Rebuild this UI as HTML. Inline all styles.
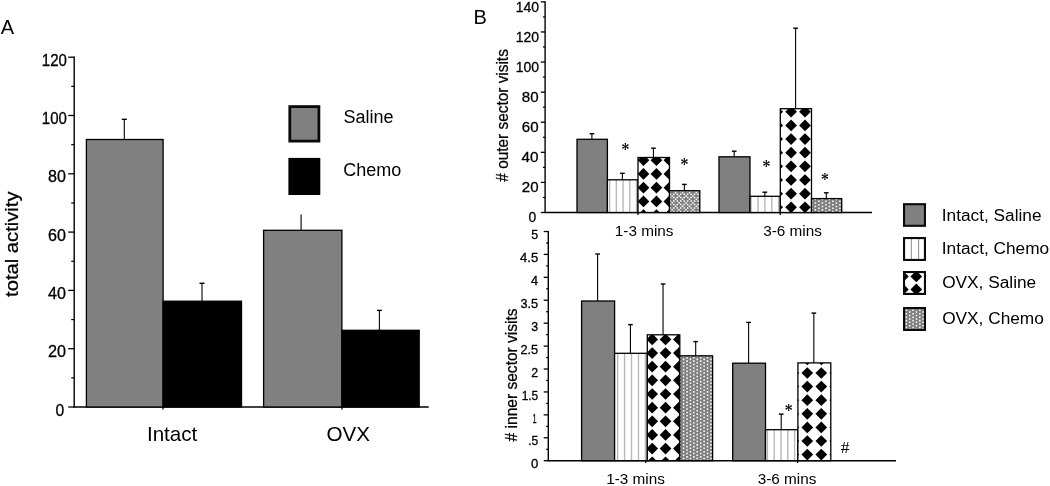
<!DOCTYPE html>
<html><head><meta charset="utf-8"><title>Figure</title>
<style>
html,body{margin:0;padding:0;background:#fff;}
body{width:1050px;height:486px;overflow:hidden;font-family:"Liberation Sans",sans-serif;}
svg{display:block;will-change:transform;}
</style></head><body>
<svg width="1050" height="486" viewBox="0 0 1050 486">
<rect x="0" y="0" width="1050" height="486" fill="#fff"/>
<defs><clipPath id="c1"><rect x="607.40" y="179.80" width="30.60" height="32.70"/></clipPath><clipPath id="c2"><rect x="638.00" y="157.50" width="31.50" height="55.00"/></clipPath><clipPath id="c3"><rect x="669.50" y="190.70" width="30.30" height="21.80"/></clipPath><clipPath id="c4"><rect x="750.00" y="196.30" width="30.30" height="16.20"/></clipPath><clipPath id="c5"><rect x="780.30" y="108.70" width="31.20" height="103.80"/></clipPath><clipPath id="c6"><rect x="811.50" y="198.60" width="30.20" height="13.90"/></clipPath><clipPath id="c7"><rect x="614.60" y="353.30" width="32.70" height="107.40"/></clipPath><clipPath id="c8"><rect x="647.30" y="334.80" width="32.50" height="125.90"/></clipPath><clipPath id="c9"><rect x="679.80" y="355.80" width="32.80" height="104.90"/></clipPath><clipPath id="c10"><rect x="765.50" y="429.70" width="32.40" height="31.00"/></clipPath><clipPath id="c11"><rect x="797.90" y="362.90" width="32.90" height="97.80"/></clipPath><clipPath id="c12"><rect x="904.05" y="238.05" width="20.90" height="21.90"/></clipPath><clipPath id="c13"><rect x="904.05" y="272.05" width="20.90" height="21.90"/></clipPath><clipPath id="c14"><rect x="904.05" y="308.05" width="20.90" height="21.90"/></clipPath></defs>
<text x="0.80" y="33.80" font-size="20" text-anchor="start" font-family="Liberation Sans, sans-serif" fill="#000" >A</text>
<line x1="74.20" y1="56.60" x2="74.20" y2="407.60" stroke="#000" stroke-width="1.4"/>
<line x1="73.50" y1="407.00" x2="428.70" y2="407.00" stroke="#000" stroke-width="1.4"/>
<line x1="68.20" y1="407.00" x2="74.20" y2="407.00" stroke="#000" stroke-width="1.3"/>
<text transform="translate(55.50,415.65) scale(0.9600,1)" font-size="16.3" font-family="Liberation Sans, sans-serif" fill="#000" stroke="#000" stroke-width="0.3">0</text>
<line x1="71.20" y1="377.85" x2="74.20" y2="377.85" stroke="#000" stroke-width="1.2"/>
<line x1="68.20" y1="348.70" x2="74.20" y2="348.70" stroke="#000" stroke-width="1.3"/>
<text transform="translate(48.00,357.35) scale(0.9931,1)" font-size="16.3" font-family="Liberation Sans, sans-serif" fill="#000" stroke="#000" stroke-width="0.3">20</text>
<line x1="71.20" y1="319.55" x2="74.20" y2="319.55" stroke="#000" stroke-width="1.2"/>
<line x1="68.20" y1="290.40" x2="74.20" y2="290.40" stroke="#000" stroke-width="1.3"/>
<text transform="translate(48.10,299.05) scale(0.9876,1)" font-size="16.3" font-family="Liberation Sans, sans-serif" fill="#000" stroke="#000" stroke-width="0.3">40</text>
<line x1="71.20" y1="261.25" x2="74.20" y2="261.25" stroke="#000" stroke-width="1.2"/>
<line x1="68.20" y1="232.10" x2="74.20" y2="232.10" stroke="#000" stroke-width="1.3"/>
<text transform="translate(48.10,240.75) scale(0.9876,1)" font-size="16.3" font-family="Liberation Sans, sans-serif" fill="#000" stroke="#000" stroke-width="0.3">60</text>
<line x1="71.20" y1="202.95" x2="74.20" y2="202.95" stroke="#000" stroke-width="1.2"/>
<line x1="68.20" y1="173.80" x2="74.20" y2="173.80" stroke="#000" stroke-width="1.3"/>
<text transform="translate(48.10,182.45) scale(0.9876,1)" font-size="16.3" font-family="Liberation Sans, sans-serif" fill="#000" stroke="#000" stroke-width="0.3">80</text>
<line x1="71.20" y1="144.65" x2="74.20" y2="144.65" stroke="#000" stroke-width="1.2"/>
<line x1="68.20" y1="115.50" x2="74.20" y2="115.50" stroke="#000" stroke-width="1.3"/>
<text transform="translate(41.80,124.15) scale(0.9232,1)" font-size="16.3" font-family="Liberation Sans, sans-serif" fill="#000" stroke="#000" stroke-width="0.3">100</text>
<line x1="71.20" y1="86.35" x2="74.20" y2="86.35" stroke="#000" stroke-width="1.2"/>
<line x1="68.20" y1="57.20" x2="74.20" y2="57.20" stroke="#000" stroke-width="1.3"/>
<text transform="translate(41.80,65.85) scale(0.9232,1)" font-size="16.3" font-family="Liberation Sans, sans-serif" fill="#000" stroke="#000" stroke-width="0.3">120</text>
<line x1="163.00" y1="407.00" x2="163.00" y2="409.60" stroke="#000" stroke-width="1.3"/>
<line x1="341.90" y1="407.00" x2="341.90" y2="409.60" stroke="#000" stroke-width="1.3"/>
<rect x="86.40" y="139.50" width="76.70" height="267.50" fill="#808080" stroke="#000" stroke-width="1.3"/>
<rect x="163.10" y="301.20" width="78.40" height="105.80" fill="#000" stroke="#000" stroke-width="1.3"/>
<rect x="263.60" y="230.30" width="78.30" height="176.70" fill="#808080" stroke="#000" stroke-width="1.3"/>
<rect x="341.90" y="330.30" width="77.30" height="76.70" fill="#000" stroke="#000" stroke-width="1.3"/>
<line x1="124.30" y1="119.30" x2="124.30" y2="139.50" stroke="#000" stroke-width="1.1"/>
<line x1="121.80" y1="119.30" x2="126.80" y2="119.30" stroke="#000" stroke-width="1.4000000000000001"/>
<line x1="202.00" y1="283.30" x2="202.00" y2="301.20" stroke="#000" stroke-width="1.1"/>
<line x1="199.50" y1="283.30" x2="204.50" y2="283.30" stroke="#000" stroke-width="1.4000000000000001"/>
<line x1="301.10" y1="214.50" x2="301.10" y2="230.30" stroke="#000" stroke-width="1.1"/>
<line x1="379.40" y1="310.40" x2="379.40" y2="330.30" stroke="#000" stroke-width="1.1"/>
<line x1="376.90" y1="310.40" x2="381.90" y2="310.40" stroke="#000" stroke-width="1.4000000000000001"/>
<text x="172.10" y="441.00" font-size="20.6" text-anchor="middle" font-family="Liberation Sans, sans-serif" fill="#000" >Intact</text>
<text x="348.20" y="441.00" font-size="20.6" text-anchor="middle" font-family="Liberation Sans, sans-serif" fill="#000" >OVX</text>
<text transform="translate(18.3,244.2) rotate(-90) scale(1,0.88)" font-size="20.2" text-anchor="middle" font-family="Liberation Sans, sans-serif" fill="#000" stroke="#000" stroke-width="0.3">total activity</text>
<rect x="289.80" y="106.60" width="29.10" height="34.50" fill="#808080" stroke="#0a0a0a" stroke-width="2.8"/>
<rect x="288.40" y="157.90" width="31.90" height="37.10" fill="#000" />
<text x="343.60" y="123.30" font-size="18" text-anchor="start" font-family="Liberation Sans, sans-serif" fill="#000" >Saline</text>
<text x="343.30" y="175.80" font-size="18" text-anchor="start" font-family="Liberation Sans, sans-serif" fill="#000" >Chemo</text>
<text x="473.50" y="23.50" font-size="20" text-anchor="start" font-family="Liberation Sans, sans-serif" fill="#000" >B</text>
<line x1="545.10" y1="1.27" x2="545.10" y2="213.10" stroke="#000" stroke-width="1.4"/>
<line x1="544.40" y1="212.50" x2="872.00" y2="212.50" stroke="#000" stroke-width="1.4"/>
<line x1="540.80" y1="212.50" x2="545.10" y2="212.50" stroke="#000" stroke-width="1.3"/>
<text transform="translate(528.60,222.20) scale(0.9606,1)" font-size="14.4" font-family="Liberation Sans, sans-serif" fill="#000" stroke="#000" stroke-width="0.3">0</text>
<line x1="542.90" y1="197.46" x2="545.10" y2="197.46" stroke="#000" stroke-width="1.2"/>
<line x1="540.80" y1="182.41" x2="545.10" y2="182.41" stroke="#000" stroke-width="1.3"/>
<text transform="translate(521.80,192.11) scale(1.0480,1)" font-size="14.4" font-family="Liberation Sans, sans-serif" fill="#000" stroke="#000" stroke-width="0.3">20</text>
<line x1="542.90" y1="167.37" x2="545.10" y2="167.37" stroke="#000" stroke-width="1.2"/>
<line x1="540.80" y1="152.32" x2="545.10" y2="152.32" stroke="#000" stroke-width="1.3"/>
<text transform="translate(521.60,162.02) scale(1.0604,1)" font-size="14.4" font-family="Liberation Sans, sans-serif" fill="#000" stroke="#000" stroke-width="0.3">40</text>
<line x1="542.90" y1="137.28" x2="545.10" y2="137.28" stroke="#000" stroke-width="1.2"/>
<line x1="540.80" y1="122.23" x2="545.10" y2="122.23" stroke="#000" stroke-width="1.3"/>
<text transform="translate(521.80,131.93) scale(1.0480,1)" font-size="14.4" font-family="Liberation Sans, sans-serif" fill="#000" stroke="#000" stroke-width="0.3">60</text>
<line x1="542.90" y1="107.19" x2="545.10" y2="107.19" stroke="#000" stroke-width="1.2"/>
<line x1="540.80" y1="92.14" x2="545.10" y2="92.14" stroke="#000" stroke-width="1.3"/>
<text transform="translate(521.80,101.84) scale(1.0480,1)" font-size="14.4" font-family="Liberation Sans, sans-serif" fill="#000" stroke="#000" stroke-width="0.3">80</text>
<line x1="542.90" y1="77.09" x2="545.10" y2="77.09" stroke="#000" stroke-width="1.2"/>
<line x1="540.80" y1="62.05" x2="545.10" y2="62.05" stroke="#000" stroke-width="1.3"/>
<text transform="translate(515.80,71.75) scale(0.9696,1)" font-size="14.4" font-family="Liberation Sans, sans-serif" fill="#000" stroke="#000" stroke-width="0.3">100</text>
<line x1="542.90" y1="47.00" x2="545.10" y2="47.00" stroke="#000" stroke-width="1.2"/>
<line x1="540.80" y1="31.96" x2="545.10" y2="31.96" stroke="#000" stroke-width="1.3"/>
<text transform="translate(515.80,41.66) scale(0.9696,1)" font-size="14.4" font-family="Liberation Sans, sans-serif" fill="#000" stroke="#000" stroke-width="0.3">120</text>
<line x1="542.90" y1="16.92" x2="545.10" y2="16.92" stroke="#000" stroke-width="1.2"/>
<line x1="540.80" y1="1.87" x2="545.10" y2="1.87" stroke="#000" stroke-width="1.3"/>
<text transform="translate(515.80,11.57) scale(0.9696,1)" font-size="14.4" font-family="Liberation Sans, sans-serif" fill="#000" stroke="#000" stroke-width="0.3">140</text>
<line x1="638.00" y1="212.50" x2="638.00" y2="214.90" stroke="#000" stroke-width="1.3"/>
<line x1="780.30" y1="212.50" x2="780.30" y2="214.90" stroke="#000" stroke-width="1.3"/>
<rect x="577.00" y="139.30" width="30.40" height="73.20" fill="#808080" />
<rect x="577.00" y="139.30" width="30.40" height="73.20" fill="none" stroke="#000" stroke-width="1.3"/>
<line x1="591.90" y1="133.70" x2="591.90" y2="139.30" stroke="#000" stroke-width="1.1"/>
<line x1="589.55" y1="133.70" x2="594.25" y2="133.70" stroke="#000" stroke-width="1.4000000000000001"/>
<g clip-path="url(#c1)"><rect x="607.40" y="179.80" width="30.60" height="32.70" fill="#fff"/><rect x="602.18" y="179.80" width="1.4" height="32.70" fill="#b8b8b8"/><rect x="608.90" y="179.80" width="1.4" height="32.70" fill="#b8b8b8"/><rect x="615.62" y="179.80" width="1.4" height="32.70" fill="#b8b8b8"/><rect x="622.34" y="179.80" width="1.4" height="32.70" fill="#b8b8b8"/><rect x="629.06" y="179.80" width="1.4" height="32.70" fill="#b8b8b8"/><rect x="635.78" y="179.80" width="1.4" height="32.70" fill="#b8b8b8"/><rect x="642.50" y="179.80" width="1.4" height="32.70" fill="#b8b8b8"/></g>
<rect x="607.40" y="179.80" width="30.60" height="32.70" fill="none" stroke="#000" stroke-width="1.3"/>
<line x1="622.40" y1="173.30" x2="622.40" y2="179.80" stroke="#000" stroke-width="1.1"/>
<line x1="620.05" y1="173.30" x2="624.75" y2="173.30" stroke="#000" stroke-width="1.4000000000000001"/>
<g clip-path="url(#c2)"><rect x="638.00" y="157.50" width="31.50" height="55.00" fill="#fff"/><polygon points="630.55,140.62 636.40,146.47 630.55,152.32 624.70,146.47"/><polygon points="630.55,154.35 636.40,160.20 630.55,166.05 624.70,160.20"/><polygon points="630.55,168.08 636.40,173.93 630.55,179.78 624.70,173.93"/><polygon points="630.55,181.81 636.40,187.66 630.55,193.51 624.70,187.66"/><polygon points="630.55,195.54 636.40,201.39 630.55,207.24 624.70,201.39"/><polygon points="630.55,209.27 636.40,215.12 630.55,220.97 624.70,215.12"/><polygon points="643.50,140.62 649.35,146.47 643.50,152.32 637.65,146.47"/><polygon points="643.50,154.35 649.35,160.20 643.50,166.05 637.65,160.20"/><polygon points="643.50,168.08 649.35,173.93 643.50,179.78 637.65,173.93"/><polygon points="643.50,181.81 649.35,187.66 643.50,193.51 637.65,187.66"/><polygon points="643.50,195.54 649.35,201.39 643.50,207.24 637.65,201.39"/><polygon points="643.50,209.27 649.35,215.12 643.50,220.97 637.65,215.12"/><polygon points="656.45,140.62 662.30,146.47 656.45,152.32 650.60,146.47"/><polygon points="656.45,154.35 662.30,160.20 656.45,166.05 650.60,160.20"/><polygon points="656.45,168.08 662.30,173.93 656.45,179.78 650.60,173.93"/><polygon points="656.45,181.81 662.30,187.66 656.45,193.51 650.60,187.66"/><polygon points="656.45,195.54 662.30,201.39 656.45,207.24 650.60,201.39"/><polygon points="656.45,209.27 662.30,215.12 656.45,220.97 650.60,215.12"/><polygon points="669.40,140.62 675.25,146.47 669.40,152.32 663.55,146.47"/><polygon points="669.40,154.35 675.25,160.20 669.40,166.05 663.55,160.20"/><polygon points="669.40,168.08 675.25,173.93 669.40,179.78 663.55,173.93"/><polygon points="669.40,181.81 675.25,187.66 669.40,193.51 663.55,187.66"/><polygon points="669.40,195.54 675.25,201.39 669.40,207.24 663.55,201.39"/><polygon points="669.40,209.27 675.25,215.12 669.40,220.97 663.55,215.12"/><polygon points="682.35,140.62 688.20,146.47 682.35,152.32 676.50,146.47"/><polygon points="682.35,154.35 688.20,160.20 682.35,166.05 676.50,160.20"/><polygon points="682.35,168.08 688.20,173.93 682.35,179.78 676.50,173.93"/><polygon points="682.35,181.81 688.20,187.66 682.35,193.51 676.50,187.66"/><polygon points="682.35,195.54 688.20,201.39 682.35,207.24 676.50,201.39"/><polygon points="682.35,209.27 688.20,215.12 682.35,220.97 676.50,215.12"/></g>
<rect x="638.00" y="157.50" width="31.50" height="55.00" fill="none" stroke="#000" stroke-width="1.3"/>
<line x1="653.45" y1="148.20" x2="653.45" y2="157.50" stroke="#000" stroke-width="1.1"/>
<line x1="651.10" y1="148.20" x2="655.80" y2="148.20" stroke="#000" stroke-width="1.4000000000000001"/>
<g clip-path="url(#c3)"><rect x="669.50" y="190.70" width="30.30" height="21.80" fill="#808080"/><path d="M666.20 189.95h1.5v1.5h-1.5zM666.20 193.40h1.5v1.5h-1.5zM666.20 196.85h1.5v1.5h-1.5zM666.20 200.30h1.5v1.5h-1.5zM666.20 203.75h1.5v1.5h-1.5zM666.20 207.20h1.5v1.5h-1.5zM666.20 210.65h1.5v1.5h-1.5zM666.20 214.10h1.5v1.5h-1.5zM669.65 189.95h1.5v1.5h-1.5zM669.65 193.40h1.5v1.5h-1.5zM669.65 196.85h1.5v1.5h-1.5zM669.65 200.30h1.5v1.5h-1.5zM669.65 203.75h1.5v1.5h-1.5zM669.65 207.20h1.5v1.5h-1.5zM669.65 210.65h1.5v1.5h-1.5zM669.65 214.10h1.5v1.5h-1.5zM673.10 189.95h1.5v1.5h-1.5zM673.10 193.40h1.5v1.5h-1.5zM673.10 196.85h1.5v1.5h-1.5zM673.10 200.30h1.5v1.5h-1.5zM673.10 203.75h1.5v1.5h-1.5zM673.10 207.20h1.5v1.5h-1.5zM673.10 210.65h1.5v1.5h-1.5zM673.10 214.10h1.5v1.5h-1.5zM676.55 189.95h1.5v1.5h-1.5zM676.55 193.40h1.5v1.5h-1.5zM676.55 196.85h1.5v1.5h-1.5zM676.55 200.30h1.5v1.5h-1.5zM676.55 203.75h1.5v1.5h-1.5zM676.55 207.20h1.5v1.5h-1.5zM676.55 210.65h1.5v1.5h-1.5zM676.55 214.10h1.5v1.5h-1.5zM680.00 189.95h1.5v1.5h-1.5zM680.00 193.40h1.5v1.5h-1.5zM680.00 196.85h1.5v1.5h-1.5zM680.00 200.30h1.5v1.5h-1.5zM680.00 203.75h1.5v1.5h-1.5zM680.00 207.20h1.5v1.5h-1.5zM680.00 210.65h1.5v1.5h-1.5zM680.00 214.10h1.5v1.5h-1.5zM683.45 189.95h1.5v1.5h-1.5zM683.45 193.40h1.5v1.5h-1.5zM683.45 196.85h1.5v1.5h-1.5zM683.45 200.30h1.5v1.5h-1.5zM683.45 203.75h1.5v1.5h-1.5zM683.45 207.20h1.5v1.5h-1.5zM683.45 210.65h1.5v1.5h-1.5zM683.45 214.10h1.5v1.5h-1.5zM686.90 189.95h1.5v1.5h-1.5zM686.90 193.40h1.5v1.5h-1.5zM686.90 196.85h1.5v1.5h-1.5zM686.90 200.30h1.5v1.5h-1.5zM686.90 203.75h1.5v1.5h-1.5zM686.90 207.20h1.5v1.5h-1.5zM686.90 210.65h1.5v1.5h-1.5zM686.90 214.10h1.5v1.5h-1.5zM690.35 189.95h1.5v1.5h-1.5zM690.35 193.40h1.5v1.5h-1.5zM690.35 196.85h1.5v1.5h-1.5zM690.35 200.30h1.5v1.5h-1.5zM690.35 203.75h1.5v1.5h-1.5zM690.35 207.20h1.5v1.5h-1.5zM690.35 210.65h1.5v1.5h-1.5zM690.35 214.10h1.5v1.5h-1.5zM693.80 189.95h1.5v1.5h-1.5zM693.80 193.40h1.5v1.5h-1.5zM693.80 196.85h1.5v1.5h-1.5zM693.80 200.30h1.5v1.5h-1.5zM693.80 203.75h1.5v1.5h-1.5zM693.80 207.20h1.5v1.5h-1.5zM693.80 210.65h1.5v1.5h-1.5zM693.80 214.10h1.5v1.5h-1.5zM697.25 189.95h1.5v1.5h-1.5zM697.25 193.40h1.5v1.5h-1.5zM697.25 196.85h1.5v1.5h-1.5zM697.25 200.30h1.5v1.5h-1.5zM697.25 203.75h1.5v1.5h-1.5zM697.25 207.20h1.5v1.5h-1.5zM697.25 210.65h1.5v1.5h-1.5zM697.25 214.10h1.5v1.5h-1.5zM700.70 189.95h1.5v1.5h-1.5zM700.70 193.40h1.5v1.5h-1.5zM700.70 196.85h1.5v1.5h-1.5zM700.70 200.30h1.5v1.5h-1.5zM700.70 203.75h1.5v1.5h-1.5zM700.70 207.20h1.5v1.5h-1.5zM700.70 210.65h1.5v1.5h-1.5zM700.70 214.10h1.5v1.5h-1.5zM668.00 191.70h1.5v1.5h-1.5zM668.00 198.60h1.5v1.5h-1.5zM668.00 205.50h1.5v1.5h-1.5zM668.00 212.40h1.5v1.5h-1.5zM671.45 188.25h1.5v1.5h-1.5zM671.45 195.15h1.5v1.5h-1.5zM671.45 202.05h1.5v1.5h-1.5zM671.45 208.95h1.5v1.5h-1.5zM674.90 191.70h1.5v1.5h-1.5zM674.90 198.60h1.5v1.5h-1.5zM674.90 205.50h1.5v1.5h-1.5zM674.90 212.40h1.5v1.5h-1.5zM678.35 188.25h1.5v1.5h-1.5zM678.35 195.15h1.5v1.5h-1.5zM678.35 202.05h1.5v1.5h-1.5zM678.35 208.95h1.5v1.5h-1.5zM681.80 191.70h1.5v1.5h-1.5zM681.80 198.60h1.5v1.5h-1.5zM681.80 205.50h1.5v1.5h-1.5zM681.80 212.40h1.5v1.5h-1.5zM685.25 188.25h1.5v1.5h-1.5zM685.25 195.15h1.5v1.5h-1.5zM685.25 202.05h1.5v1.5h-1.5zM685.25 208.95h1.5v1.5h-1.5zM688.70 191.70h1.5v1.5h-1.5zM688.70 198.60h1.5v1.5h-1.5zM688.70 205.50h1.5v1.5h-1.5zM688.70 212.40h1.5v1.5h-1.5zM692.15 188.25h1.5v1.5h-1.5zM692.15 195.15h1.5v1.5h-1.5zM692.15 202.05h1.5v1.5h-1.5zM692.15 208.95h1.5v1.5h-1.5zM695.60 191.70h1.5v1.5h-1.5zM695.60 198.60h1.5v1.5h-1.5zM695.60 205.50h1.5v1.5h-1.5zM695.60 212.40h1.5v1.5h-1.5zM699.05 188.25h1.5v1.5h-1.5zM699.05 195.15h1.5v1.5h-1.5zM699.05 202.05h1.5v1.5h-1.5zM699.05 208.95h1.5v1.5h-1.5zM702.50 191.70h1.5v1.5h-1.5zM702.50 198.60h1.5v1.5h-1.5zM702.50 205.50h1.5v1.5h-1.5zM702.50 212.40h1.5v1.5h-1.5z" fill="#fff"/></g>
<rect x="669.50" y="190.70" width="30.30" height="21.80" fill="none" stroke="#000" stroke-width="1.3"/>
<line x1="684.35" y1="184.40" x2="684.35" y2="190.70" stroke="#000" stroke-width="1.1"/>
<line x1="682.00" y1="184.40" x2="686.70" y2="184.40" stroke="#000" stroke-width="1.4000000000000001"/>
<rect x="719.00" y="156.80" width="31.00" height="55.70" fill="#808080" />
<rect x="719.00" y="156.80" width="31.00" height="55.70" fill="none" stroke="#000" stroke-width="1.3"/>
<line x1="734.20" y1="151.20" x2="734.20" y2="156.80" stroke="#000" stroke-width="1.1"/>
<line x1="731.85" y1="151.20" x2="736.55" y2="151.20" stroke="#000" stroke-width="1.4000000000000001"/>
<g clip-path="url(#c4)"><rect x="750.00" y="196.30" width="30.30" height="16.20" fill="#fff"/><rect x="743.50" y="196.30" width="1.4" height="16.20" fill="#b8b8b8"/><rect x="750.40" y="196.30" width="1.4" height="16.20" fill="#b8b8b8"/><rect x="757.30" y="196.30" width="1.4" height="16.20" fill="#b8b8b8"/><rect x="764.20" y="196.30" width="1.4" height="16.20" fill="#b8b8b8"/><rect x="771.10" y="196.30" width="1.4" height="16.20" fill="#b8b8b8"/><rect x="778.00" y="196.30" width="1.4" height="16.20" fill="#b8b8b8"/><rect x="784.90" y="196.30" width="1.4" height="16.20" fill="#b8b8b8"/></g>
<rect x="750.00" y="196.30" width="30.30" height="16.20" fill="none" stroke="#000" stroke-width="1.3"/>
<line x1="764.85" y1="192.20" x2="764.85" y2="196.30" stroke="#000" stroke-width="1.1"/>
<line x1="762.50" y1="192.20" x2="767.20" y2="192.20" stroke="#000" stroke-width="1.4000000000000001"/>
<g clip-path="url(#c5)"><rect x="780.30" y="108.70" width="31.20" height="103.80" fill="#fff"/><polygon points="777.20,92.25 783.05,98.10 777.20,103.95 771.35,98.10"/><polygon points="777.20,105.90 783.05,111.75 777.20,117.60 771.35,111.75"/><polygon points="777.20,119.55 783.05,125.40 777.20,131.25 771.35,125.40"/><polygon points="777.20,133.20 783.05,139.05 777.20,144.90 771.35,139.05"/><polygon points="777.20,146.85 783.05,152.70 777.20,158.55 771.35,152.70"/><polygon points="777.20,160.50 783.05,166.35 777.20,172.20 771.35,166.35"/><polygon points="777.20,174.15 783.05,180.00 777.20,185.85 771.35,180.00"/><polygon points="777.20,187.80 783.05,193.65 777.20,199.50 771.35,193.65"/><polygon points="777.20,201.45 783.05,207.30 777.20,213.15 771.35,207.30"/><polygon points="777.20,215.10 783.05,220.95 777.20,226.80 771.35,220.95"/><polygon points="791.10,92.25 796.95,98.10 791.10,103.95 785.25,98.10"/><polygon points="791.10,105.90 796.95,111.75 791.10,117.60 785.25,111.75"/><polygon points="791.10,119.55 796.95,125.40 791.10,131.25 785.25,125.40"/><polygon points="791.10,133.20 796.95,139.05 791.10,144.90 785.25,139.05"/><polygon points="791.10,146.85 796.95,152.70 791.10,158.55 785.25,152.70"/><polygon points="791.10,160.50 796.95,166.35 791.10,172.20 785.25,166.35"/><polygon points="791.10,174.15 796.95,180.00 791.10,185.85 785.25,180.00"/><polygon points="791.10,187.80 796.95,193.65 791.10,199.50 785.25,193.65"/><polygon points="791.10,201.45 796.95,207.30 791.10,213.15 785.25,207.30"/><polygon points="791.10,215.10 796.95,220.95 791.10,226.80 785.25,220.95"/><polygon points="805.00,92.25 810.85,98.10 805.00,103.95 799.15,98.10"/><polygon points="805.00,105.90 810.85,111.75 805.00,117.60 799.15,111.75"/><polygon points="805.00,119.55 810.85,125.40 805.00,131.25 799.15,125.40"/><polygon points="805.00,133.20 810.85,139.05 805.00,144.90 799.15,139.05"/><polygon points="805.00,146.85 810.85,152.70 805.00,158.55 799.15,152.70"/><polygon points="805.00,160.50 810.85,166.35 805.00,172.20 799.15,166.35"/><polygon points="805.00,174.15 810.85,180.00 805.00,185.85 799.15,180.00"/><polygon points="805.00,187.80 810.85,193.65 805.00,199.50 799.15,193.65"/><polygon points="805.00,201.45 810.85,207.30 805.00,213.15 799.15,207.30"/><polygon points="805.00,215.10 810.85,220.95 805.00,226.80 799.15,220.95"/><polygon points="818.90,92.25 824.75,98.10 818.90,103.95 813.05,98.10"/><polygon points="818.90,105.90 824.75,111.75 818.90,117.60 813.05,111.75"/><polygon points="818.90,119.55 824.75,125.40 818.90,131.25 813.05,125.40"/><polygon points="818.90,133.20 824.75,139.05 818.90,144.90 813.05,139.05"/><polygon points="818.90,146.85 824.75,152.70 818.90,158.55 813.05,152.70"/><polygon points="818.90,160.50 824.75,166.35 818.90,172.20 813.05,166.35"/><polygon points="818.90,174.15 824.75,180.00 818.90,185.85 813.05,180.00"/><polygon points="818.90,187.80 824.75,193.65 818.90,199.50 813.05,193.65"/><polygon points="818.90,201.45 824.75,207.30 818.90,213.15 813.05,207.30"/><polygon points="818.90,215.10 824.75,220.95 818.90,226.80 813.05,220.95"/></g>
<rect x="780.30" y="108.70" width="31.20" height="103.80" fill="none" stroke="#000" stroke-width="1.3"/>
<line x1="795.60" y1="28.20" x2="795.60" y2="108.70" stroke="#000" stroke-width="1.1"/>
<line x1="793.25" y1="28.20" x2="797.95" y2="28.20" stroke="#000" stroke-width="1.4000000000000001"/>
<g clip-path="url(#c6)"><rect x="811.50" y="198.60" width="30.20" height="13.90" fill="#808080"/><path d="M807.62 195.41h1.55v1.55h-1.55zM807.62 198.82h1.55v1.55h-1.55zM807.62 202.24h1.55v1.55h-1.55zM807.62 205.66h1.55v1.55h-1.55zM807.62 209.08h1.55v1.55h-1.55zM807.62 212.50h1.55v1.55h-1.55zM811.12 197.12h1.55v1.55h-1.55zM811.12 200.53h1.55v1.55h-1.55zM811.12 203.95h1.55v1.55h-1.55zM811.12 207.38h1.55v1.55h-1.55zM811.12 210.79h1.55v1.55h-1.55zM811.12 214.22h1.55v1.55h-1.55zM814.62 195.41h1.55v1.55h-1.55zM814.62 198.82h1.55v1.55h-1.55zM814.62 202.24h1.55v1.55h-1.55zM814.62 205.66h1.55v1.55h-1.55zM814.62 209.08h1.55v1.55h-1.55zM814.62 212.50h1.55v1.55h-1.55zM818.12 197.12h1.55v1.55h-1.55zM818.12 200.53h1.55v1.55h-1.55zM818.12 203.95h1.55v1.55h-1.55zM818.12 207.38h1.55v1.55h-1.55zM818.12 210.79h1.55v1.55h-1.55zM818.12 214.22h1.55v1.55h-1.55zM821.62 195.41h1.55v1.55h-1.55zM821.62 198.82h1.55v1.55h-1.55zM821.62 202.24h1.55v1.55h-1.55zM821.62 205.66h1.55v1.55h-1.55zM821.62 209.08h1.55v1.55h-1.55zM821.62 212.50h1.55v1.55h-1.55zM825.12 197.12h1.55v1.55h-1.55zM825.12 200.53h1.55v1.55h-1.55zM825.12 203.95h1.55v1.55h-1.55zM825.12 207.38h1.55v1.55h-1.55zM825.12 210.79h1.55v1.55h-1.55zM825.12 214.22h1.55v1.55h-1.55zM828.62 195.41h1.55v1.55h-1.55zM828.62 198.82h1.55v1.55h-1.55zM828.62 202.24h1.55v1.55h-1.55zM828.62 205.66h1.55v1.55h-1.55zM828.62 209.08h1.55v1.55h-1.55zM828.62 212.50h1.55v1.55h-1.55zM832.12 197.12h1.55v1.55h-1.55zM832.12 200.53h1.55v1.55h-1.55zM832.12 203.95h1.55v1.55h-1.55zM832.12 207.38h1.55v1.55h-1.55zM832.12 210.79h1.55v1.55h-1.55zM832.12 214.22h1.55v1.55h-1.55zM835.62 195.41h1.55v1.55h-1.55zM835.62 198.82h1.55v1.55h-1.55zM835.62 202.24h1.55v1.55h-1.55zM835.62 205.66h1.55v1.55h-1.55zM835.62 209.08h1.55v1.55h-1.55zM835.62 212.50h1.55v1.55h-1.55zM839.12 197.12h1.55v1.55h-1.55zM839.12 200.53h1.55v1.55h-1.55zM839.12 203.95h1.55v1.55h-1.55zM839.12 207.38h1.55v1.55h-1.55zM839.12 210.79h1.55v1.55h-1.55zM839.12 214.22h1.55v1.55h-1.55zM842.62 195.41h1.55v1.55h-1.55zM842.62 198.82h1.55v1.55h-1.55zM842.62 202.24h1.55v1.55h-1.55zM842.62 205.66h1.55v1.55h-1.55zM842.62 209.08h1.55v1.55h-1.55zM842.62 212.50h1.55v1.55h-1.55z" fill="#fff"/></g>
<rect x="811.50" y="198.60" width="30.20" height="13.90" fill="none" stroke="#000" stroke-width="1.3"/>
<line x1="826.30" y1="192.80" x2="826.30" y2="198.60" stroke="#000" stroke-width="1.1"/>
<line x1="823.95" y1="192.80" x2="828.65" y2="192.80" stroke="#000" stroke-width="1.4000000000000001"/>
<text x="644.20" y="235.80" font-size="15.3" text-anchor="middle" font-family="Liberation Sans, sans-serif" fill="#000" >1-3 mins</text>
<text x="792.60" y="235.80" font-size="15.3" text-anchor="middle" font-family="Liberation Sans, sans-serif" fill="#000" >3-6 mins</text>
<text transform="translate(508.0,115.4) rotate(-90) scale(1,1.05)" font-size="15.4" text-anchor="middle" font-family="Liberation Sans, sans-serif" fill="#000" stroke="#000" stroke-width="0.25"># outer sector visits</text>
<text transform="translate(625.40,155.80) scale(0.92,1.12)" font-size="17" text-anchor="middle" font-family="Liberation Serif, serif" fill="#000" stroke="#000" stroke-width="0.2">*</text>
<text transform="translate(684.40,171.30) scale(0.92,1.12)" font-size="17" text-anchor="middle" font-family="Liberation Serif, serif" fill="#000" stroke="#000" stroke-width="0.2">*</text>
<text transform="translate(766.40,173.30) scale(0.92,1.12)" font-size="17" text-anchor="middle" font-family="Liberation Serif, serif" fill="#000" stroke="#000" stroke-width="0.2">*</text>
<text transform="translate(824.90,186.30) scale(0.92,1.12)" font-size="17" text-anchor="middle" font-family="Liberation Serif, serif" fill="#000" stroke="#000" stroke-width="0.2">*</text>
<line x1="548.30" y1="230.90" x2="548.30" y2="461.30" stroke="#000" stroke-width="1.4"/>
<line x1="547.60" y1="460.70" x2="896.00" y2="460.70" stroke="#000" stroke-width="1.4"/>
<line x1="543.70" y1="460.70" x2="548.30" y2="460.70" stroke="#000" stroke-width="1.3"/>
<text transform="translate(530.90,468.40) scale(1.0429,1)" font-size="12.6" font-family="Liberation Sans, sans-serif" fill="#000" stroke="#000" stroke-width="0.3">0</text>
<line x1="546.10" y1="449.24" x2="548.30" y2="449.24" stroke="#000" stroke-width="1.2"/>
<line x1="543.70" y1="437.78" x2="548.30" y2="437.78" stroke="#000" stroke-width="1.3"/>
<text transform="translate(528.20,445.48) scale(0.9524,1)" font-size="12.6" font-family="Liberation Sans, sans-serif" fill="#000" stroke="#000" stroke-width="0.3">.5</text>
<line x1="546.10" y1="426.32" x2="548.30" y2="426.32" stroke="#000" stroke-width="1.2"/>
<line x1="543.70" y1="414.86" x2="548.30" y2="414.86" stroke="#000" stroke-width="1.3"/>
<text transform="translate(532.40,422.56) scale(0.5857,1)" font-size="12.6" font-family="Liberation Sans, sans-serif" fill="#000" stroke="#000" stroke-width="0.3">1</text>
<line x1="546.10" y1="403.40" x2="548.30" y2="403.40" stroke="#000" stroke-width="1.2"/>
<line x1="543.70" y1="391.94" x2="548.30" y2="391.94" stroke="#000" stroke-width="1.3"/>
<text transform="translate(521.70,399.64) scale(0.9429,1)" font-size="12.6" font-family="Liberation Sans, sans-serif" fill="#000" stroke="#000" stroke-width="0.3">1.5</text>
<line x1="546.10" y1="380.48" x2="548.30" y2="380.48" stroke="#000" stroke-width="1.2"/>
<line x1="543.70" y1="369.02" x2="548.30" y2="369.02" stroke="#000" stroke-width="1.3"/>
<text transform="translate(531.30,376.72) scale(0.9857,1)" font-size="12.6" font-family="Liberation Sans, sans-serif" fill="#000" stroke="#000" stroke-width="0.3">2</text>
<line x1="546.10" y1="357.56" x2="548.30" y2="357.56" stroke="#000" stroke-width="1.2"/>
<line x1="543.70" y1="346.10" x2="548.30" y2="346.10" stroke="#000" stroke-width="1.3"/>
<text transform="translate(520.50,353.80) scale(1.0114,1)" font-size="12.6" font-family="Liberation Sans, sans-serif" fill="#000" stroke="#000" stroke-width="0.3">2.5</text>
<line x1="546.10" y1="334.64" x2="548.30" y2="334.64" stroke="#000" stroke-width="1.2"/>
<line x1="543.70" y1="323.18" x2="548.30" y2="323.18" stroke="#000" stroke-width="1.3"/>
<text transform="translate(531.30,330.88) scale(0.9857,1)" font-size="12.6" font-family="Liberation Sans, sans-serif" fill="#000" stroke="#000" stroke-width="0.3">3</text>
<line x1="546.10" y1="311.72" x2="548.30" y2="311.72" stroke="#000" stroke-width="1.2"/>
<line x1="543.70" y1="300.26" x2="548.30" y2="300.26" stroke="#000" stroke-width="1.3"/>
<text transform="translate(520.50,307.96) scale(1.0114,1)" font-size="12.6" font-family="Liberation Sans, sans-serif" fill="#000" stroke="#000" stroke-width="0.3">3.5</text>
<line x1="546.10" y1="288.80" x2="548.30" y2="288.80" stroke="#000" stroke-width="1.2"/>
<line x1="543.70" y1="277.34" x2="548.30" y2="277.34" stroke="#000" stroke-width="1.3"/>
<text transform="translate(530.90,285.04) scale(1.0143,1)" font-size="12.6" font-family="Liberation Sans, sans-serif" fill="#000" stroke="#000" stroke-width="0.3">4</text>
<line x1="546.10" y1="265.88" x2="548.30" y2="265.88" stroke="#000" stroke-width="1.2"/>
<line x1="543.70" y1="254.42" x2="548.30" y2="254.42" stroke="#000" stroke-width="1.3"/>
<text transform="translate(520.10,262.12) scale(1.0343,1)" font-size="12.6" font-family="Liberation Sans, sans-serif" fill="#000" stroke="#000" stroke-width="0.3">4.5</text>
<line x1="546.10" y1="242.96" x2="548.30" y2="242.96" stroke="#000" stroke-width="1.2"/>
<line x1="543.70" y1="231.50" x2="548.30" y2="231.50" stroke="#000" stroke-width="1.3"/>
<text transform="translate(531.30,239.20) scale(0.9857,1)" font-size="12.6" font-family="Liberation Sans, sans-serif" fill="#000" stroke="#000" stroke-width="0.3">5</text>
<line x1="645.70" y1="460.70" x2="645.70" y2="463.10" stroke="#000" stroke-width="1.3"/>
<line x1="797.60" y1="460.70" x2="797.60" y2="463.10" stroke="#000" stroke-width="1.3"/>
<rect x="581.60" y="301.00" width="33.00" height="159.70" fill="#808080" />
<rect x="581.60" y="301.00" width="33.00" height="159.70" fill="none" stroke="#000" stroke-width="1.3"/>
<line x1="597.60" y1="254.00" x2="597.60" y2="301.00" stroke="#000" stroke-width="1.1"/>
<line x1="595.25" y1="254.00" x2="599.95" y2="254.00" stroke="#000" stroke-width="1.4000000000000001"/>
<g clip-path="url(#c7)"><rect x="614.60" y="353.30" width="32.70" height="107.40" fill="#fff"/><rect x="609.95" y="353.30" width="1.4" height="107.40" fill="#b8b8b8"/><rect x="616.90" y="353.30" width="1.4" height="107.40" fill="#b8b8b8"/><rect x="623.85" y="353.30" width="1.4" height="107.40" fill="#b8b8b8"/><rect x="630.80" y="353.30" width="1.4" height="107.40" fill="#b8b8b8"/><rect x="637.75" y="353.30" width="1.4" height="107.40" fill="#b8b8b8"/><rect x="644.70" y="353.30" width="1.4" height="107.40" fill="#b8b8b8"/><rect x="651.65" y="353.30" width="1.4" height="107.40" fill="#b8b8b8"/></g>
<rect x="614.60" y="353.30" width="32.70" height="107.40" fill="none" stroke="#000" stroke-width="1.3"/>
<line x1="630.45" y1="324.60" x2="630.45" y2="353.30" stroke="#000" stroke-width="1.1"/>
<line x1="628.10" y1="324.60" x2="632.80" y2="324.60" stroke="#000" stroke-width="1.4000000000000001"/>
<g clip-path="url(#c8)"><rect x="647.30" y="334.80" width="32.50" height="125.90" fill="#fff"/><polygon points="638.85,319.90 644.70,325.75 638.85,331.60 633.00,325.75"/><polygon points="638.85,333.55 644.70,339.40 638.85,345.25 633.00,339.40"/><polygon points="638.85,347.20 644.70,353.05 638.85,358.90 633.00,353.05"/><polygon points="638.85,360.85 644.70,366.70 638.85,372.55 633.00,366.70"/><polygon points="638.85,374.50 644.70,380.35 638.85,386.20 633.00,380.35"/><polygon points="638.85,388.15 644.70,394.00 638.85,399.85 633.00,394.00"/><polygon points="638.85,401.80 644.70,407.65 638.85,413.50 633.00,407.65"/><polygon points="638.85,415.45 644.70,421.30 638.85,427.15 633.00,421.30"/><polygon points="638.85,429.10 644.70,434.95 638.85,440.80 633.00,434.95"/><polygon points="638.85,442.75 644.70,448.60 638.85,454.45 633.00,448.60"/><polygon points="638.85,456.40 644.70,462.25 638.85,468.10 633.00,462.25"/><polygon points="652.20,319.90 658.05,325.75 652.20,331.60 646.35,325.75"/><polygon points="652.20,333.55 658.05,339.40 652.20,345.25 646.35,339.40"/><polygon points="652.20,347.20 658.05,353.05 652.20,358.90 646.35,353.05"/><polygon points="652.20,360.85 658.05,366.70 652.20,372.55 646.35,366.70"/><polygon points="652.20,374.50 658.05,380.35 652.20,386.20 646.35,380.35"/><polygon points="652.20,388.15 658.05,394.00 652.20,399.85 646.35,394.00"/><polygon points="652.20,401.80 658.05,407.65 652.20,413.50 646.35,407.65"/><polygon points="652.20,415.45 658.05,421.30 652.20,427.15 646.35,421.30"/><polygon points="652.20,429.10 658.05,434.95 652.20,440.80 646.35,434.95"/><polygon points="652.20,442.75 658.05,448.60 652.20,454.45 646.35,448.60"/><polygon points="652.20,456.40 658.05,462.25 652.20,468.10 646.35,462.25"/><polygon points="665.55,319.90 671.40,325.75 665.55,331.60 659.70,325.75"/><polygon points="665.55,333.55 671.40,339.40 665.55,345.25 659.70,339.40"/><polygon points="665.55,347.20 671.40,353.05 665.55,358.90 659.70,353.05"/><polygon points="665.55,360.85 671.40,366.70 665.55,372.55 659.70,366.70"/><polygon points="665.55,374.50 671.40,380.35 665.55,386.20 659.70,380.35"/><polygon points="665.55,388.15 671.40,394.00 665.55,399.85 659.70,394.00"/><polygon points="665.55,401.80 671.40,407.65 665.55,413.50 659.70,407.65"/><polygon points="665.55,415.45 671.40,421.30 665.55,427.15 659.70,421.30"/><polygon points="665.55,429.10 671.40,434.95 665.55,440.80 659.70,434.95"/><polygon points="665.55,442.75 671.40,448.60 665.55,454.45 659.70,448.60"/><polygon points="665.55,456.40 671.40,462.25 665.55,468.10 659.70,462.25"/><polygon points="678.90,319.90 684.75,325.75 678.90,331.60 673.05,325.75"/><polygon points="678.90,333.55 684.75,339.40 678.90,345.25 673.05,339.40"/><polygon points="678.90,347.20 684.75,353.05 678.90,358.90 673.05,353.05"/><polygon points="678.90,360.85 684.75,366.70 678.90,372.55 673.05,366.70"/><polygon points="678.90,374.50 684.75,380.35 678.90,386.20 673.05,380.35"/><polygon points="678.90,388.15 684.75,394.00 678.90,399.85 673.05,394.00"/><polygon points="678.90,401.80 684.75,407.65 678.90,413.50 673.05,407.65"/><polygon points="678.90,415.45 684.75,421.30 678.90,427.15 673.05,421.30"/><polygon points="678.90,429.10 684.75,434.95 678.90,440.80 673.05,434.95"/><polygon points="678.90,442.75 684.75,448.60 678.90,454.45 673.05,448.60"/><polygon points="678.90,456.40 684.75,462.25 678.90,468.10 673.05,462.25"/><polygon points="692.25,319.90 698.10,325.75 692.25,331.60 686.40,325.75"/><polygon points="692.25,333.55 698.10,339.40 692.25,345.25 686.40,339.40"/><polygon points="692.25,347.20 698.10,353.05 692.25,358.90 686.40,353.05"/><polygon points="692.25,360.85 698.10,366.70 692.25,372.55 686.40,366.70"/><polygon points="692.25,374.50 698.10,380.35 692.25,386.20 686.40,380.35"/><polygon points="692.25,388.15 698.10,394.00 692.25,399.85 686.40,394.00"/><polygon points="692.25,401.80 698.10,407.65 692.25,413.50 686.40,407.65"/><polygon points="692.25,415.45 698.10,421.30 692.25,427.15 686.40,421.30"/><polygon points="692.25,429.10 698.10,434.95 692.25,440.80 686.40,434.95"/><polygon points="692.25,442.75 698.10,448.60 692.25,454.45 686.40,448.60"/><polygon points="692.25,456.40 698.10,462.25 692.25,468.10 686.40,462.25"/></g>
<rect x="647.30" y="334.80" width="32.50" height="125.90" fill="none" stroke="#000" stroke-width="1.3"/>
<line x1="663.05" y1="284.00" x2="663.05" y2="334.80" stroke="#000" stroke-width="1.1"/>
<line x1="660.70" y1="284.00" x2="665.40" y2="284.00" stroke="#000" stroke-width="1.4000000000000001"/>
<g clip-path="url(#c9)"><rect x="679.80" y="355.80" width="32.80" height="104.90" fill="#808080"/><path d="M675.99 351.79h1.55v1.55h-1.55zM675.99 355.20h1.55v1.55h-1.55zM675.99 358.62h1.55v1.55h-1.55zM675.99 362.05h1.55v1.55h-1.55zM675.99 365.46h1.55v1.55h-1.55zM675.99 368.88h1.55v1.55h-1.55zM675.99 372.31h1.55v1.55h-1.55zM675.99 375.73h1.55v1.55h-1.55zM675.99 379.14h1.55v1.55h-1.55zM675.99 382.56h1.55v1.55h-1.55zM675.99 385.99h1.55v1.55h-1.55zM675.99 389.40h1.55v1.55h-1.55zM675.99 392.82h1.55v1.55h-1.55zM675.99 396.25h1.55v1.55h-1.55zM675.99 399.67h1.55v1.55h-1.55zM675.99 403.08h1.55v1.55h-1.55zM675.99 406.50h1.55v1.55h-1.55zM675.99 409.93h1.55v1.55h-1.55zM675.99 413.35h1.55v1.55h-1.55zM675.99 416.76h1.55v1.55h-1.55zM675.99 420.19h1.55v1.55h-1.55zM675.99 423.61h1.55v1.55h-1.55zM675.99 427.02h1.55v1.55h-1.55zM675.99 430.44h1.55v1.55h-1.55zM675.99 433.87h1.55v1.55h-1.55zM675.99 437.28h1.55v1.55h-1.55zM675.99 440.70h1.55v1.55h-1.55zM675.99 444.12h1.55v1.55h-1.55zM675.99 447.55h1.55v1.55h-1.55zM675.99 450.97h1.55v1.55h-1.55zM675.99 454.38h1.55v1.55h-1.55zM675.99 457.81h1.55v1.55h-1.55zM675.99 461.23h1.55v1.55h-1.55zM679.41 353.50h1.55v1.55h-1.55zM679.41 356.91h1.55v1.55h-1.55zM679.41 360.33h1.55v1.55h-1.55zM679.41 363.75h1.55v1.55h-1.55zM679.41 367.17h1.55v1.55h-1.55zM679.41 370.59h1.55v1.55h-1.55zM679.41 374.01h1.55v1.55h-1.55zM679.41 377.44h1.55v1.55h-1.55zM679.41 380.85h1.55v1.55h-1.55zM679.41 384.27h1.55v1.55h-1.55zM679.41 387.69h1.55v1.55h-1.55zM679.41 391.12h1.55v1.55h-1.55zM679.41 394.53h1.55v1.55h-1.55zM679.41 397.95h1.55v1.55h-1.55zM679.41 401.38h1.55v1.55h-1.55zM679.41 404.79h1.55v1.55h-1.55zM679.41 408.21h1.55v1.55h-1.55zM679.41 411.63h1.55v1.55h-1.55zM679.41 415.05h1.55v1.55h-1.55zM679.41 418.47h1.55v1.55h-1.55zM679.41 421.89h1.55v1.55h-1.55zM679.41 425.31h1.55v1.55h-1.55zM679.41 428.74h1.55v1.55h-1.55zM679.41 432.15h1.55v1.55h-1.55zM679.41 435.57h1.55v1.55h-1.55zM679.41 439.00h1.55v1.55h-1.55zM679.41 442.41h1.55v1.55h-1.55zM679.41 445.83h1.55v1.55h-1.55zM679.41 449.25h1.55v1.55h-1.55zM679.41 452.67h1.55v1.55h-1.55zM679.41 456.09h1.55v1.55h-1.55zM679.41 459.51h1.55v1.55h-1.55zM679.41 462.93h1.55v1.55h-1.55zM682.83 351.79h1.55v1.55h-1.55zM682.83 355.20h1.55v1.55h-1.55zM682.83 358.62h1.55v1.55h-1.55zM682.83 362.05h1.55v1.55h-1.55zM682.83 365.46h1.55v1.55h-1.55zM682.83 368.88h1.55v1.55h-1.55zM682.83 372.31h1.55v1.55h-1.55zM682.83 375.73h1.55v1.55h-1.55zM682.83 379.14h1.55v1.55h-1.55zM682.83 382.56h1.55v1.55h-1.55zM682.83 385.99h1.55v1.55h-1.55zM682.83 389.40h1.55v1.55h-1.55zM682.83 392.82h1.55v1.55h-1.55zM682.83 396.25h1.55v1.55h-1.55zM682.83 399.67h1.55v1.55h-1.55zM682.83 403.08h1.55v1.55h-1.55zM682.83 406.50h1.55v1.55h-1.55zM682.83 409.93h1.55v1.55h-1.55zM682.83 413.35h1.55v1.55h-1.55zM682.83 416.76h1.55v1.55h-1.55zM682.83 420.19h1.55v1.55h-1.55zM682.83 423.61h1.55v1.55h-1.55zM682.83 427.02h1.55v1.55h-1.55zM682.83 430.44h1.55v1.55h-1.55zM682.83 433.87h1.55v1.55h-1.55zM682.83 437.28h1.55v1.55h-1.55zM682.83 440.70h1.55v1.55h-1.55zM682.83 444.12h1.55v1.55h-1.55zM682.83 447.55h1.55v1.55h-1.55zM682.83 450.97h1.55v1.55h-1.55zM682.83 454.38h1.55v1.55h-1.55zM682.83 457.81h1.55v1.55h-1.55zM682.83 461.23h1.55v1.55h-1.55zM686.25 353.50h1.55v1.55h-1.55zM686.25 356.91h1.55v1.55h-1.55zM686.25 360.33h1.55v1.55h-1.55zM686.25 363.75h1.55v1.55h-1.55zM686.25 367.17h1.55v1.55h-1.55zM686.25 370.59h1.55v1.55h-1.55zM686.25 374.01h1.55v1.55h-1.55zM686.25 377.44h1.55v1.55h-1.55zM686.25 380.85h1.55v1.55h-1.55zM686.25 384.27h1.55v1.55h-1.55zM686.25 387.69h1.55v1.55h-1.55zM686.25 391.12h1.55v1.55h-1.55zM686.25 394.53h1.55v1.55h-1.55zM686.25 397.95h1.55v1.55h-1.55zM686.25 401.38h1.55v1.55h-1.55zM686.25 404.79h1.55v1.55h-1.55zM686.25 408.21h1.55v1.55h-1.55zM686.25 411.63h1.55v1.55h-1.55zM686.25 415.05h1.55v1.55h-1.55zM686.25 418.47h1.55v1.55h-1.55zM686.25 421.89h1.55v1.55h-1.55zM686.25 425.31h1.55v1.55h-1.55zM686.25 428.74h1.55v1.55h-1.55zM686.25 432.15h1.55v1.55h-1.55zM686.25 435.57h1.55v1.55h-1.55zM686.25 439.00h1.55v1.55h-1.55zM686.25 442.41h1.55v1.55h-1.55zM686.25 445.83h1.55v1.55h-1.55zM686.25 449.25h1.55v1.55h-1.55zM686.25 452.67h1.55v1.55h-1.55zM686.25 456.09h1.55v1.55h-1.55zM686.25 459.51h1.55v1.55h-1.55zM686.25 462.93h1.55v1.55h-1.55zM689.67 351.79h1.55v1.55h-1.55zM689.67 355.20h1.55v1.55h-1.55zM689.67 358.62h1.55v1.55h-1.55zM689.67 362.05h1.55v1.55h-1.55zM689.67 365.46h1.55v1.55h-1.55zM689.67 368.88h1.55v1.55h-1.55zM689.67 372.31h1.55v1.55h-1.55zM689.67 375.73h1.55v1.55h-1.55zM689.67 379.14h1.55v1.55h-1.55zM689.67 382.56h1.55v1.55h-1.55zM689.67 385.99h1.55v1.55h-1.55zM689.67 389.40h1.55v1.55h-1.55zM689.67 392.82h1.55v1.55h-1.55zM689.67 396.25h1.55v1.55h-1.55zM689.67 399.67h1.55v1.55h-1.55zM689.67 403.08h1.55v1.55h-1.55zM689.67 406.50h1.55v1.55h-1.55zM689.67 409.93h1.55v1.55h-1.55zM689.67 413.35h1.55v1.55h-1.55zM689.67 416.76h1.55v1.55h-1.55zM689.67 420.19h1.55v1.55h-1.55zM689.67 423.61h1.55v1.55h-1.55zM689.67 427.02h1.55v1.55h-1.55zM689.67 430.44h1.55v1.55h-1.55zM689.67 433.87h1.55v1.55h-1.55zM689.67 437.28h1.55v1.55h-1.55zM689.67 440.70h1.55v1.55h-1.55zM689.67 444.12h1.55v1.55h-1.55zM689.67 447.55h1.55v1.55h-1.55zM689.67 450.97h1.55v1.55h-1.55zM689.67 454.38h1.55v1.55h-1.55zM689.67 457.81h1.55v1.55h-1.55zM689.67 461.23h1.55v1.55h-1.55zM693.09 353.50h1.55v1.55h-1.55zM693.09 356.91h1.55v1.55h-1.55zM693.09 360.33h1.55v1.55h-1.55zM693.09 363.75h1.55v1.55h-1.55zM693.09 367.17h1.55v1.55h-1.55zM693.09 370.59h1.55v1.55h-1.55zM693.09 374.01h1.55v1.55h-1.55zM693.09 377.44h1.55v1.55h-1.55zM693.09 380.85h1.55v1.55h-1.55zM693.09 384.27h1.55v1.55h-1.55zM693.09 387.69h1.55v1.55h-1.55zM693.09 391.12h1.55v1.55h-1.55zM693.09 394.53h1.55v1.55h-1.55zM693.09 397.95h1.55v1.55h-1.55zM693.09 401.38h1.55v1.55h-1.55zM693.09 404.79h1.55v1.55h-1.55zM693.09 408.21h1.55v1.55h-1.55zM693.09 411.63h1.55v1.55h-1.55zM693.09 415.05h1.55v1.55h-1.55zM693.09 418.47h1.55v1.55h-1.55zM693.09 421.89h1.55v1.55h-1.55zM693.09 425.31h1.55v1.55h-1.55zM693.09 428.74h1.55v1.55h-1.55zM693.09 432.15h1.55v1.55h-1.55zM693.09 435.57h1.55v1.55h-1.55zM693.09 439.00h1.55v1.55h-1.55zM693.09 442.41h1.55v1.55h-1.55zM693.09 445.83h1.55v1.55h-1.55zM693.09 449.25h1.55v1.55h-1.55zM693.09 452.67h1.55v1.55h-1.55zM693.09 456.09h1.55v1.55h-1.55zM693.09 459.51h1.55v1.55h-1.55zM693.09 462.93h1.55v1.55h-1.55zM696.50 351.79h1.55v1.55h-1.55zM696.50 355.20h1.55v1.55h-1.55zM696.50 358.62h1.55v1.55h-1.55zM696.50 362.05h1.55v1.55h-1.55zM696.50 365.46h1.55v1.55h-1.55zM696.50 368.88h1.55v1.55h-1.55zM696.50 372.31h1.55v1.55h-1.55zM696.50 375.73h1.55v1.55h-1.55zM696.50 379.14h1.55v1.55h-1.55zM696.50 382.56h1.55v1.55h-1.55zM696.50 385.99h1.55v1.55h-1.55zM696.50 389.40h1.55v1.55h-1.55zM696.50 392.82h1.55v1.55h-1.55zM696.50 396.25h1.55v1.55h-1.55zM696.50 399.67h1.55v1.55h-1.55zM696.50 403.08h1.55v1.55h-1.55zM696.50 406.50h1.55v1.55h-1.55zM696.50 409.93h1.55v1.55h-1.55zM696.50 413.35h1.55v1.55h-1.55zM696.50 416.76h1.55v1.55h-1.55zM696.50 420.19h1.55v1.55h-1.55zM696.50 423.61h1.55v1.55h-1.55zM696.50 427.02h1.55v1.55h-1.55zM696.50 430.44h1.55v1.55h-1.55zM696.50 433.87h1.55v1.55h-1.55zM696.50 437.28h1.55v1.55h-1.55zM696.50 440.70h1.55v1.55h-1.55zM696.50 444.12h1.55v1.55h-1.55zM696.50 447.55h1.55v1.55h-1.55zM696.50 450.97h1.55v1.55h-1.55zM696.50 454.38h1.55v1.55h-1.55zM696.50 457.81h1.55v1.55h-1.55zM696.50 461.23h1.55v1.55h-1.55zM699.93 353.50h1.55v1.55h-1.55zM699.93 356.91h1.55v1.55h-1.55zM699.93 360.33h1.55v1.55h-1.55zM699.93 363.75h1.55v1.55h-1.55zM699.93 367.17h1.55v1.55h-1.55zM699.93 370.59h1.55v1.55h-1.55zM699.93 374.01h1.55v1.55h-1.55zM699.93 377.44h1.55v1.55h-1.55zM699.93 380.85h1.55v1.55h-1.55zM699.93 384.27h1.55v1.55h-1.55zM699.93 387.69h1.55v1.55h-1.55zM699.93 391.12h1.55v1.55h-1.55zM699.93 394.53h1.55v1.55h-1.55zM699.93 397.95h1.55v1.55h-1.55zM699.93 401.38h1.55v1.55h-1.55zM699.93 404.79h1.55v1.55h-1.55zM699.93 408.21h1.55v1.55h-1.55zM699.93 411.63h1.55v1.55h-1.55zM699.93 415.05h1.55v1.55h-1.55zM699.93 418.47h1.55v1.55h-1.55zM699.93 421.89h1.55v1.55h-1.55zM699.93 425.31h1.55v1.55h-1.55zM699.93 428.74h1.55v1.55h-1.55zM699.93 432.15h1.55v1.55h-1.55zM699.93 435.57h1.55v1.55h-1.55zM699.93 439.00h1.55v1.55h-1.55zM699.93 442.41h1.55v1.55h-1.55zM699.93 445.83h1.55v1.55h-1.55zM699.93 449.25h1.55v1.55h-1.55zM699.93 452.67h1.55v1.55h-1.55zM699.93 456.09h1.55v1.55h-1.55zM699.93 459.51h1.55v1.55h-1.55zM699.93 462.93h1.55v1.55h-1.55zM703.35 351.79h1.55v1.55h-1.55zM703.35 355.20h1.55v1.55h-1.55zM703.35 358.62h1.55v1.55h-1.55zM703.35 362.05h1.55v1.55h-1.55zM703.35 365.46h1.55v1.55h-1.55zM703.35 368.88h1.55v1.55h-1.55zM703.35 372.31h1.55v1.55h-1.55zM703.35 375.73h1.55v1.55h-1.55zM703.35 379.14h1.55v1.55h-1.55zM703.35 382.56h1.55v1.55h-1.55zM703.35 385.99h1.55v1.55h-1.55zM703.35 389.40h1.55v1.55h-1.55zM703.35 392.82h1.55v1.55h-1.55zM703.35 396.25h1.55v1.55h-1.55zM703.35 399.67h1.55v1.55h-1.55zM703.35 403.08h1.55v1.55h-1.55zM703.35 406.50h1.55v1.55h-1.55zM703.35 409.93h1.55v1.55h-1.55zM703.35 413.35h1.55v1.55h-1.55zM703.35 416.76h1.55v1.55h-1.55zM703.35 420.19h1.55v1.55h-1.55zM703.35 423.61h1.55v1.55h-1.55zM703.35 427.02h1.55v1.55h-1.55zM703.35 430.44h1.55v1.55h-1.55zM703.35 433.87h1.55v1.55h-1.55zM703.35 437.28h1.55v1.55h-1.55zM703.35 440.70h1.55v1.55h-1.55zM703.35 444.12h1.55v1.55h-1.55zM703.35 447.55h1.55v1.55h-1.55zM703.35 450.97h1.55v1.55h-1.55zM703.35 454.38h1.55v1.55h-1.55zM703.35 457.81h1.55v1.55h-1.55zM703.35 461.23h1.55v1.55h-1.55zM706.76 353.50h1.55v1.55h-1.55zM706.76 356.91h1.55v1.55h-1.55zM706.76 360.33h1.55v1.55h-1.55zM706.76 363.75h1.55v1.55h-1.55zM706.76 367.17h1.55v1.55h-1.55zM706.76 370.59h1.55v1.55h-1.55zM706.76 374.01h1.55v1.55h-1.55zM706.76 377.44h1.55v1.55h-1.55zM706.76 380.85h1.55v1.55h-1.55zM706.76 384.27h1.55v1.55h-1.55zM706.76 387.69h1.55v1.55h-1.55zM706.76 391.12h1.55v1.55h-1.55zM706.76 394.53h1.55v1.55h-1.55zM706.76 397.95h1.55v1.55h-1.55zM706.76 401.38h1.55v1.55h-1.55zM706.76 404.79h1.55v1.55h-1.55zM706.76 408.21h1.55v1.55h-1.55zM706.76 411.63h1.55v1.55h-1.55zM706.76 415.05h1.55v1.55h-1.55zM706.76 418.47h1.55v1.55h-1.55zM706.76 421.89h1.55v1.55h-1.55zM706.76 425.31h1.55v1.55h-1.55zM706.76 428.74h1.55v1.55h-1.55zM706.76 432.15h1.55v1.55h-1.55zM706.76 435.57h1.55v1.55h-1.55zM706.76 439.00h1.55v1.55h-1.55zM706.76 442.41h1.55v1.55h-1.55zM706.76 445.83h1.55v1.55h-1.55zM706.76 449.25h1.55v1.55h-1.55zM706.76 452.67h1.55v1.55h-1.55zM706.76 456.09h1.55v1.55h-1.55zM706.76 459.51h1.55v1.55h-1.55zM706.76 462.93h1.55v1.55h-1.55zM710.19 351.79h1.55v1.55h-1.55zM710.19 355.20h1.55v1.55h-1.55zM710.19 358.62h1.55v1.55h-1.55zM710.19 362.05h1.55v1.55h-1.55zM710.19 365.46h1.55v1.55h-1.55zM710.19 368.88h1.55v1.55h-1.55zM710.19 372.31h1.55v1.55h-1.55zM710.19 375.73h1.55v1.55h-1.55zM710.19 379.14h1.55v1.55h-1.55zM710.19 382.56h1.55v1.55h-1.55zM710.19 385.99h1.55v1.55h-1.55zM710.19 389.40h1.55v1.55h-1.55zM710.19 392.82h1.55v1.55h-1.55zM710.19 396.25h1.55v1.55h-1.55zM710.19 399.67h1.55v1.55h-1.55zM710.19 403.08h1.55v1.55h-1.55zM710.19 406.50h1.55v1.55h-1.55zM710.19 409.93h1.55v1.55h-1.55zM710.19 413.35h1.55v1.55h-1.55zM710.19 416.76h1.55v1.55h-1.55zM710.19 420.19h1.55v1.55h-1.55zM710.19 423.61h1.55v1.55h-1.55zM710.19 427.02h1.55v1.55h-1.55zM710.19 430.44h1.55v1.55h-1.55zM710.19 433.87h1.55v1.55h-1.55zM710.19 437.28h1.55v1.55h-1.55zM710.19 440.70h1.55v1.55h-1.55zM710.19 444.12h1.55v1.55h-1.55zM710.19 447.55h1.55v1.55h-1.55zM710.19 450.97h1.55v1.55h-1.55zM710.19 454.38h1.55v1.55h-1.55zM710.19 457.81h1.55v1.55h-1.55zM710.19 461.23h1.55v1.55h-1.55zM713.61 353.50h1.55v1.55h-1.55zM713.61 356.91h1.55v1.55h-1.55zM713.61 360.33h1.55v1.55h-1.55zM713.61 363.75h1.55v1.55h-1.55zM713.61 367.17h1.55v1.55h-1.55zM713.61 370.59h1.55v1.55h-1.55zM713.61 374.01h1.55v1.55h-1.55zM713.61 377.44h1.55v1.55h-1.55zM713.61 380.85h1.55v1.55h-1.55zM713.61 384.27h1.55v1.55h-1.55zM713.61 387.69h1.55v1.55h-1.55zM713.61 391.12h1.55v1.55h-1.55zM713.61 394.53h1.55v1.55h-1.55zM713.61 397.95h1.55v1.55h-1.55zM713.61 401.38h1.55v1.55h-1.55zM713.61 404.79h1.55v1.55h-1.55zM713.61 408.21h1.55v1.55h-1.55zM713.61 411.63h1.55v1.55h-1.55zM713.61 415.05h1.55v1.55h-1.55zM713.61 418.47h1.55v1.55h-1.55zM713.61 421.89h1.55v1.55h-1.55zM713.61 425.31h1.55v1.55h-1.55zM713.61 428.74h1.55v1.55h-1.55zM713.61 432.15h1.55v1.55h-1.55zM713.61 435.57h1.55v1.55h-1.55zM713.61 439.00h1.55v1.55h-1.55zM713.61 442.41h1.55v1.55h-1.55zM713.61 445.83h1.55v1.55h-1.55zM713.61 449.25h1.55v1.55h-1.55zM713.61 452.67h1.55v1.55h-1.55zM713.61 456.09h1.55v1.55h-1.55zM713.61 459.51h1.55v1.55h-1.55zM713.61 462.93h1.55v1.55h-1.55z" fill="#fff"/></g>
<rect x="679.80" y="355.80" width="32.80" height="104.90" fill="none" stroke="#000" stroke-width="1.3"/>
<line x1="695.70" y1="341.60" x2="695.70" y2="355.80" stroke="#000" stroke-width="1.1"/>
<line x1="693.35" y1="341.60" x2="698.05" y2="341.60" stroke="#000" stroke-width="1.4000000000000001"/>
<rect x="732.70" y="363.20" width="32.80" height="97.50" fill="#808080" />
<rect x="732.70" y="363.20" width="32.80" height="97.50" fill="none" stroke="#000" stroke-width="1.3"/>
<line x1="748.60" y1="322.40" x2="748.60" y2="363.20" stroke="#000" stroke-width="1.1"/>
<line x1="746.25" y1="322.40" x2="750.95" y2="322.40" stroke="#000" stroke-width="1.4000000000000001"/>
<g clip-path="url(#c10)"><rect x="765.50" y="429.70" width="32.40" height="31.00" fill="#fff"/><rect x="759.90" y="429.70" width="1.4" height="31.00" fill="#b8b8b8"/><rect x="766.70" y="429.70" width="1.4" height="31.00" fill="#b8b8b8"/><rect x="773.50" y="429.70" width="1.4" height="31.00" fill="#b8b8b8"/><rect x="780.30" y="429.70" width="1.4" height="31.00" fill="#b8b8b8"/><rect x="787.10" y="429.70" width="1.4" height="31.00" fill="#b8b8b8"/><rect x="793.90" y="429.70" width="1.4" height="31.00" fill="#b8b8b8"/><rect x="800.70" y="429.70" width="1.4" height="31.00" fill="#b8b8b8"/></g>
<rect x="765.50" y="429.70" width="32.40" height="31.00" fill="none" stroke="#000" stroke-width="1.3"/>
<line x1="781.20" y1="414.10" x2="781.20" y2="429.70" stroke="#000" stroke-width="1.1"/>
<line x1="778.85" y1="414.10" x2="783.55" y2="414.10" stroke="#000" stroke-width="1.4000000000000001"/>
<g clip-path="url(#c11)"><rect x="797.90" y="362.90" width="32.90" height="97.80" fill="#fff"/><polygon points="793.30,353.55 799.15,359.40 793.30,365.25 787.45,359.40"/><polygon points="793.30,367.15 799.15,373.00 793.30,378.85 787.45,373.00"/><polygon points="793.30,380.75 799.15,386.60 793.30,392.45 787.45,386.60"/><polygon points="793.30,394.35 799.15,400.20 793.30,406.05 787.45,400.20"/><polygon points="793.30,407.95 799.15,413.80 793.30,419.65 787.45,413.80"/><polygon points="793.30,421.55 799.15,427.40 793.30,433.25 787.45,427.40"/><polygon points="793.30,435.15 799.15,441.00 793.30,446.85 787.45,441.00"/><polygon points="793.30,448.75 799.15,454.60 793.30,460.45 787.45,454.60"/><polygon points="793.30,462.35 799.15,468.20 793.30,474.05 787.45,468.20"/><polygon points="807.30,353.55 813.15,359.40 807.30,365.25 801.45,359.40"/><polygon points="807.30,367.15 813.15,373.00 807.30,378.85 801.45,373.00"/><polygon points="807.30,380.75 813.15,386.60 807.30,392.45 801.45,386.60"/><polygon points="807.30,394.35 813.15,400.20 807.30,406.05 801.45,400.20"/><polygon points="807.30,407.95 813.15,413.80 807.30,419.65 801.45,413.80"/><polygon points="807.30,421.55 813.15,427.40 807.30,433.25 801.45,427.40"/><polygon points="807.30,435.15 813.15,441.00 807.30,446.85 801.45,441.00"/><polygon points="807.30,448.75 813.15,454.60 807.30,460.45 801.45,454.60"/><polygon points="807.30,462.35 813.15,468.20 807.30,474.05 801.45,468.20"/><polygon points="821.30,353.55 827.15,359.40 821.30,365.25 815.45,359.40"/><polygon points="821.30,367.15 827.15,373.00 821.30,378.85 815.45,373.00"/><polygon points="821.30,380.75 827.15,386.60 821.30,392.45 815.45,386.60"/><polygon points="821.30,394.35 827.15,400.20 821.30,406.05 815.45,400.20"/><polygon points="821.30,407.95 827.15,413.80 821.30,419.65 815.45,413.80"/><polygon points="821.30,421.55 827.15,427.40 821.30,433.25 815.45,427.40"/><polygon points="821.30,435.15 827.15,441.00 821.30,446.85 815.45,441.00"/><polygon points="821.30,448.75 827.15,454.60 821.30,460.45 815.45,454.60"/><polygon points="821.30,462.35 827.15,468.20 821.30,474.05 815.45,468.20"/><polygon points="835.30,353.55 841.15,359.40 835.30,365.25 829.45,359.40"/><polygon points="835.30,367.15 841.15,373.00 835.30,378.85 829.45,373.00"/><polygon points="835.30,380.75 841.15,386.60 835.30,392.45 829.45,386.60"/><polygon points="835.30,394.35 841.15,400.20 835.30,406.05 829.45,400.20"/><polygon points="835.30,407.95 841.15,413.80 835.30,419.65 829.45,413.80"/><polygon points="835.30,421.55 841.15,427.40 835.30,433.25 829.45,427.40"/><polygon points="835.30,435.15 841.15,441.00 835.30,446.85 829.45,441.00"/><polygon points="835.30,448.75 841.15,454.60 835.30,460.45 829.45,454.60"/><polygon points="835.30,462.35 841.15,468.20 835.30,474.05 829.45,468.20"/></g>
<rect x="797.90" y="362.90" width="32.90" height="97.80" fill="none" stroke="#000" stroke-width="1.3"/>
<line x1="813.85" y1="313.10" x2="813.85" y2="362.90" stroke="#000" stroke-width="1.1"/>
<line x1="811.50" y1="313.10" x2="816.20" y2="313.10" stroke="#000" stroke-width="1.4000000000000001"/>
<text x="635.50" y="484.00" font-size="15.3" text-anchor="middle" font-family="Liberation Sans, sans-serif" fill="#000" >1-3 mins</text>
<text x="787.00" y="484.00" font-size="15.3" text-anchor="middle" font-family="Liberation Sans, sans-serif" fill="#000" >3-6 mins</text>
<text transform="translate(516.6,374.9) rotate(-90) scale(1,1.04)" font-size="15.55" text-anchor="middle" font-family="Liberation Sans, sans-serif" fill="#000" stroke="#000" stroke-width="0.25"># inner sector visits</text>
<text transform="translate(788.7,417.0) scale(0.92,1.12)" font-size="17" text-anchor="middle" font-family="Liberation Serif, serif" fill="#000" stroke="#000" stroke-width="0.2">*</text>
<text x="845.00" y="452.60" font-size="17.5" text-anchor="middle" font-family="Liberation Serif, serif" fill="#000" >#</text>
<rect x="904.05" y="204.20" width="20.90" height="21.60" fill="#808080" />
<rect x="904.05" y="204.20" width="20.90" height="21.60" fill="none" stroke="#0a0a0a" stroke-width="2.1"/>
<g clip-path="url(#c12)"><rect x="904.05" y="238.05" width="20.90" height="21.90" fill="#fff"/><rect x="903.50" y="238.05" width="1.0" height="21.90" fill="#8c8c8c"/><rect x="910.80" y="238.05" width="1.0" height="21.90" fill="#8c8c8c"/><rect x="918.10" y="238.05" width="1.0" height="21.90" fill="#8c8c8c"/><rect x="925.40" y="238.05" width="1.0" height="21.90" fill="#8c8c8c"/></g>
<rect x="904.05" y="238.05" width="20.90" height="21.90" fill="none" stroke="#0a0a0a" stroke-width="2.1"/>
<g clip-path="url(#c13)"><rect x="904.05" y="272.05" width="20.90" height="21.90" fill="#fff"/><polygon points="902.90,257.75 908.75,263.60 902.90,269.45 897.05,263.60"/><polygon points="902.90,270.65 908.75,276.50 902.90,282.35 897.05,276.50"/><polygon points="902.90,283.55 908.75,289.40 902.90,295.25 897.05,289.40"/><polygon points="902.90,296.45 908.75,302.30 902.90,308.15 897.05,302.30"/><polygon points="916.30,257.75 922.15,263.60 916.30,269.45 910.45,263.60"/><polygon points="916.30,270.65 922.15,276.50 916.30,282.35 910.45,276.50"/><polygon points="916.30,283.55 922.15,289.40 916.30,295.25 910.45,289.40"/><polygon points="916.30,296.45 922.15,302.30 916.30,308.15 910.45,302.30"/><polygon points="929.70,257.75 935.55,263.60 929.70,269.45 923.85,263.60"/><polygon points="929.70,270.65 935.55,276.50 929.70,282.35 923.85,276.50"/><polygon points="929.70,283.55 935.55,289.40 929.70,295.25 923.85,289.40"/><polygon points="929.70,296.45 935.55,302.30 929.70,308.15 923.85,302.30"/></g>
<rect x="904.05" y="272.05" width="20.90" height="21.90" fill="none" stroke="#0a0a0a" stroke-width="2.1"/>
<g clip-path="url(#c14)"><rect x="904.05" y="308.05" width="20.90" height="21.90" fill="#808080"/><path d="M902.27 304.37h1.55v1.55h-1.55zM902.27 307.81h1.55v1.55h-1.55zM902.27 311.25h1.55v1.55h-1.55zM902.27 314.69h1.55v1.55h-1.55zM902.27 318.13h1.55v1.55h-1.55zM902.27 321.57h1.55v1.55h-1.55zM902.27 325.01h1.55v1.55h-1.55zM902.27 328.45h1.55v1.55h-1.55zM902.27 331.89h1.55v1.55h-1.55zM905.62 306.09h1.55v1.55h-1.55zM905.62 309.53h1.55v1.55h-1.55zM905.62 312.97h1.55v1.55h-1.55zM905.62 316.41h1.55v1.55h-1.55zM905.62 319.85h1.55v1.55h-1.55zM905.62 323.29h1.55v1.55h-1.55zM905.62 326.73h1.55v1.55h-1.55zM905.62 330.17h1.55v1.55h-1.55zM908.98 304.37h1.55v1.55h-1.55zM908.98 307.81h1.55v1.55h-1.55zM908.98 311.25h1.55v1.55h-1.55zM908.98 314.69h1.55v1.55h-1.55zM908.98 318.13h1.55v1.55h-1.55zM908.98 321.57h1.55v1.55h-1.55zM908.98 325.01h1.55v1.55h-1.55zM908.98 328.45h1.55v1.55h-1.55zM908.98 331.89h1.55v1.55h-1.55zM912.33 306.09h1.55v1.55h-1.55zM912.33 309.53h1.55v1.55h-1.55zM912.33 312.97h1.55v1.55h-1.55zM912.33 316.41h1.55v1.55h-1.55zM912.33 319.85h1.55v1.55h-1.55zM912.33 323.29h1.55v1.55h-1.55zM912.33 326.73h1.55v1.55h-1.55zM912.33 330.17h1.55v1.55h-1.55zM915.67 304.37h1.55v1.55h-1.55zM915.67 307.81h1.55v1.55h-1.55zM915.67 311.25h1.55v1.55h-1.55zM915.67 314.69h1.55v1.55h-1.55zM915.67 318.13h1.55v1.55h-1.55zM915.67 321.57h1.55v1.55h-1.55zM915.67 325.01h1.55v1.55h-1.55zM915.67 328.45h1.55v1.55h-1.55zM915.67 331.89h1.55v1.55h-1.55zM919.02 306.09h1.55v1.55h-1.55zM919.02 309.53h1.55v1.55h-1.55zM919.02 312.97h1.55v1.55h-1.55zM919.02 316.41h1.55v1.55h-1.55zM919.02 319.85h1.55v1.55h-1.55zM919.02 323.29h1.55v1.55h-1.55zM919.02 326.73h1.55v1.55h-1.55zM919.02 330.17h1.55v1.55h-1.55zM922.38 304.37h1.55v1.55h-1.55zM922.38 307.81h1.55v1.55h-1.55zM922.38 311.25h1.55v1.55h-1.55zM922.38 314.69h1.55v1.55h-1.55zM922.38 318.13h1.55v1.55h-1.55zM922.38 321.57h1.55v1.55h-1.55zM922.38 325.01h1.55v1.55h-1.55zM922.38 328.45h1.55v1.55h-1.55zM922.38 331.89h1.55v1.55h-1.55zM925.73 306.09h1.55v1.55h-1.55zM925.73 309.53h1.55v1.55h-1.55zM925.73 312.97h1.55v1.55h-1.55zM925.73 316.41h1.55v1.55h-1.55zM925.73 319.85h1.55v1.55h-1.55zM925.73 323.29h1.55v1.55h-1.55zM925.73 326.73h1.55v1.55h-1.55zM925.73 330.17h1.55v1.55h-1.55z" fill="#fff"/></g>
<rect x="904.05" y="308.05" width="20.90" height="21.90" fill="none" stroke="#0a0a0a" stroke-width="2.1"/>
<text x="941.80" y="220.50" font-size="17.25" text-anchor="start" font-family="Liberation Sans, sans-serif" fill="#000" >Intact, Saline</text>
<text x="941.80" y="254.20" font-size="17.25" text-anchor="start" font-family="Liberation Sans, sans-serif" fill="#000" >Intact, Chemo</text>
<text x="942.20" y="287.70" font-size="17.25" text-anchor="start" font-family="Liberation Sans, sans-serif" fill="#000" >OVX, Saline</text>
<text x="942.20" y="323.90" font-size="17.25" text-anchor="start" font-family="Liberation Sans, sans-serif" fill="#000" >OVX, Chemo</text>
</svg>
</body></html>
